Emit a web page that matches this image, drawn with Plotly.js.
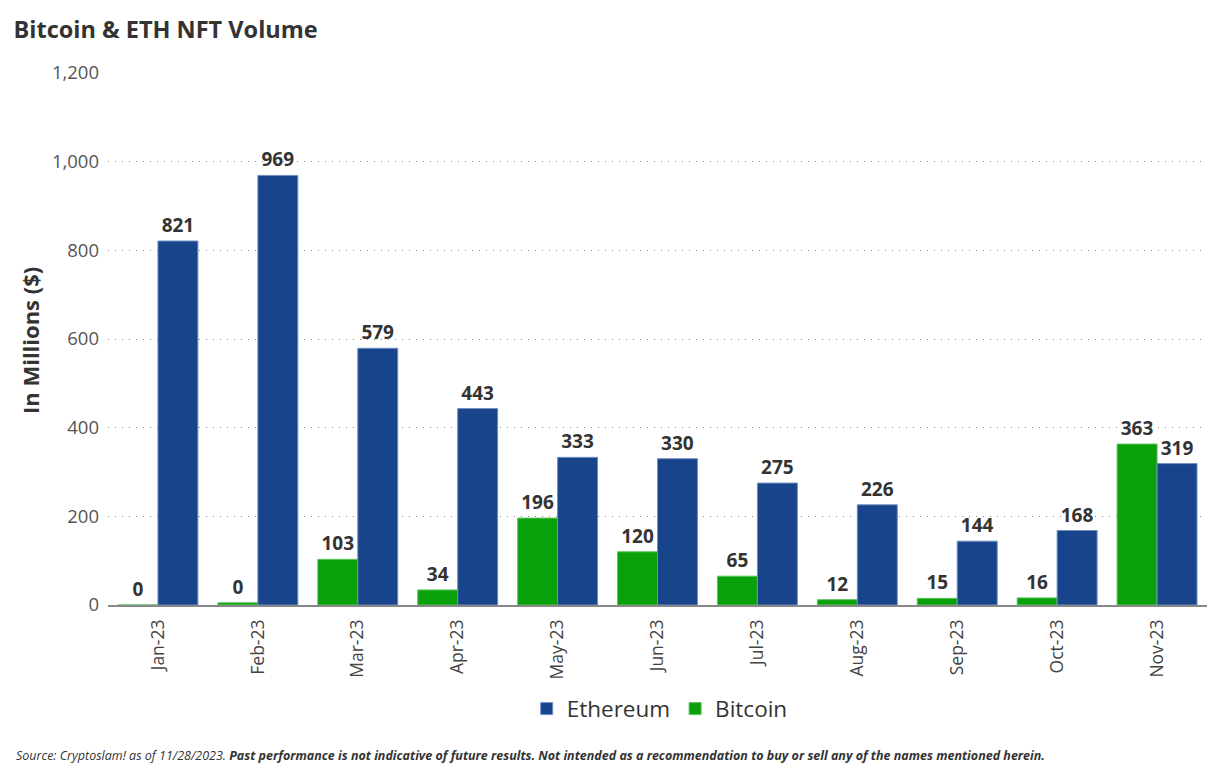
<!DOCTYPE html>
<html>
<head>
<meta charset="utf-8">
<script src="https://cdn.plot.ly/plotly-3.0.1.min.js"></script>
<style>html,body{margin:0;padding:0;background:#fff;}#chart{width:1230px;height:774px;}</style>
</head>
<body>
<div id="chart"></div>
<script>
const months = ["Jan-23","Feb-23","Mar-23","Apr-23","May-23","Jun-23","Jul-23","Aug-23","Sep-23","Oct-23","Nov-23"];
const ethVolume = [821, 969, 579, 443, 333, 330, 275, 226, 144, 168, 319];
const btcVolume = [0, 5, 103, 34, 196, 120, 65, 12, 15, 16, 363];
const ethLabels = ["821","969","579","443","333","330","275","226","144","168","319"];
const btcLabels = ["0","0","103","34","196","120","65","12","15","16","363"];
const yTicks = [0, 200, 400, 600, 800, 1000, 1200];

const labelFont = {family: "Open Sans", size: 19, color: "#333333", weight: 700};

const traces = [
  {
    type: "bar", name: "Bitcoin", x: months, y: btcVolume,
    text: btcLabels, textposition: "outside", cliponaxis: false,
    textfont: labelFont, outsidetextfont: labelFont,
    marker: {color: "#0aa00a", line: {color: "#5cc45c", width: 1}},
    hoverinfo: "x+y"
  },
  {
    type: "bar", name: "Ethereum", x: months, y: ethVolume,
    text: ethLabels, textposition: "outside", cliponaxis: false,
    textfont: labelFont, outsidetextfont: labelFont,
    marker: {color: "#18448c", line: {color: "#6f8fc0", width: 1}},
    hoverinfo: "x+y"
  }
];

const layout = {
  width: 1230, height: 774,
  paper_bgcolor: "#ffffff", plot_bgcolor: "#ffffff",
  font: {family: "Open Sans", color: "#444444"},
  margin: {l: 108, r: 23, t: 73, b: 169, autoexpand: false},
  barmode: "group", bargap: 0.2, bargroupgap: 0,
  showlegend: true,
  legend: {
    orientation: "h", x: 0.502, xanchor: "center", yref: "container", y: 0.084, yanchor: "middle",
    traceorder: "reversed", font: {family: "Open Sans", size: 22.5, color: "#333333"},
    itemwidth: 30
  },
  title: {
    text: "<b>Bitcoin & ETH NFT Volume</b>",
    x: 0.011, xanchor: "left", y: 0.962, yanchor: "middle",
    font: {family: "Open Sans", size: 23.5, color: "#333333"}
  },
  xaxis: {
    type: "category", tickangle: -90, automargin: false,
    tickfont: {family: "Open Sans", size: 17.5, color: "#444444"},
    showline: true, linecolor: "#888888", linewidth: 1.5,
    ticks: "", ticklabelstandoff: 6, showgrid: false, fixedrange: true
  },
  yaxis: {
    range: [0, 1200], tickvals: yTicks, ticktext: yTicks.map(v => v.toLocaleString("en-US")),
    tickfont: {family: "Open Sans", size: 18.5, color: "#555555"},
    showgrid: true, gridcolor: "#8a8a8a", griddash: "1px,6px", gridwidth: 1,
    zeroline: false, showline: false, ticks: "", ticklabelstandoff: 8, automargin: false,
    fixedrange: true
  },
  annotations: [
    {
      xref: "paper", yref: "paper", x: -0.071, y: 0.498, xanchor: "center", yanchor: "middle",
      textangle: -90, showarrow: false,
      text: "<b>In Millions ($)</b>",
      font: {family: "Open Sans", size: 22, color: "#333333"}
    },
    {
      xref: "paper", yref: "paper", x: -0.0855, y: -0.2838, xanchor: "left", yanchor: "middle",
      showarrow: false, align: "left",
      text: "<i>Source: Cryptoslam! as of 11/28/2023. </i><b><i>Past performance is not indicative of future results. Not intended as a recommendation to buy or sell any of the names mentioned herein.</i></b>",
      font: {family: "Open Sans", size: 12.5, color: "#333333"}
    }
  ]
};

Plotly.newPlot("chart", traces, layout, {displayModeBar: false, staticPlot: true});
</script>
</body>
</html>
